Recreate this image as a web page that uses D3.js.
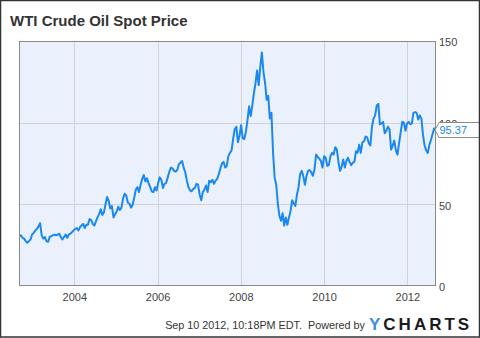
<!DOCTYPE html>
<html><head><meta charset="utf-8">
<script src="https://cdn.jsdelivr.net/npm/d3@7"></script>
<style>
html,body{margin:0;padding:0;background:#fff;}
svg{display:block;font-family:"Liberation Sans",Arial,sans-serif;}
</style></head><body>
<svg id="chart" width="480" height="338"></svg>
<script>
// WTI crude spot price, sampled every two weeks (USD per barrel)
const title = "WTI Crude Oil Spot Price";
const seriesStart = "2002-09-06";
const stepDays = 14;
const prices2002 = [30.5, 31.0, 29.5, 29.0, 27.5, 26.5, 27.5, 28.5, 31.5];
const prices2003 = [32.5, 34.0, 35.0, 36.5, 38.5, 31.0, 29.0, 30.0, 27.5, 27.0, 30.0, 30.5, 31.0, 31.5, 31.0, 31.5, 32.0, 30.0, 28.5, 30.0, 31.5, 29.5, 31.5, 32.0, 33.0, 34.0];
const prices2004 = [35.0, 35.5, 34.0, 36.0, 37.0, 38.0, 35.5, 37.5, 37.5, 41.0, 40.5, 38.0, 37.0, 39.5, 42.0, 44.0, 47.0, 43.5, 45.0, 50.0, 54.5, 52.0, 47.5, 49.0, 42.0, 44.0];
const prices2005 = [45.5, 48.5, 46.5, 48.0, 53.5, 56.5, 55.5, 51.0, 50.5, 48.0, 49.5, 54.0, 59.0, 60.5, 57.5, 62.0, 65.5, 68.0, 64.0, 66.0, 63.0, 60.5, 58.0, 57.5, 60.5, 58.5];
const prices2006 = [63.0, 66.5, 65.0, 60.0, 62.5, 63.0, 66.5, 70.0, 72.5, 72.0, 70.5, 70.0, 71.0, 74.5, 75.5, 76.5, 72.5, 69.5, 64.5, 60.5, 58.5, 58.0, 59.5, 60.0, 62.5, 62.0];
const prices2007 = [56.0, 52.5, 57.5, 59.0, 61.5, 57.5, 64.5, 63.5, 65.0, 62.5, 64.5, 65.5, 68.5, 72.0, 75.0, 76.0, 72.5, 73.5, 79.5, 81.5, 83.0, 90.0, 96.0, 97.5, 88.0, 92.0];
const prices2008 = [98.5, 90.5, 90.0, 94.5, 101.5, 110.0, 104.0, 110.5, 118.0, 124.0, 132.0, 123.0, 134.0, 143.0, 131.0, 124.5, 114.0, 116.5, 102.5, 106.0, 82.0, 66.5, 62.0, 50.5, 43.0, 40.0];
const prices2009 = [44.5, 37.0, 42.0, 37.5, 42.0, 46.0, 52.5, 50.5, 49.0, 56.0, 60.5, 68.5, 70.5, 67.0, 62.0, 67.5, 70.5, 71.0, 69.5, 67.5, 71.5, 80.5, 79.0, 78.0, 76.5, 72.5];
const prices2010 = [79.5, 78.5, 73.5, 74.0, 79.5, 81.5, 80.5, 85.0, 83.5, 76.0, 70.5, 73.0, 77.5, 72.5, 76.5, 78.5, 76.0, 74.0, 75.5, 76.0, 82.5, 81.5, 86.5, 81.5, 88.0, 88.5, 91.5];
const prices2011 = [91.0, 87.5, 86.0, 97.5, 102.5, 104.5, 110.5, 111.5, 99.0, 99.5, 100.5, 93.5, 95.0, 97.5, 96.0, 83.5, 86.0, 89.0, 83.0, 80.5, 87.5, 94.0, 100.5, 100.0, 95.0, 99.5];
const prices2012 = [100.5, 99.0, 99.5, 106.0, 106.5, 106.0, 102.0, 104.5, 102.5, 92.5, 86.0, 83.0, 81.5, 86.5, 89.5, 93.0, 96.5, 95.37];

const xDomain = ["2002-09-03", "2012-09-09"];
const xTickYears = [2004, 2006, 2008, 2010, 2012];
const yTicks = [0, 50, 100, 150];
const footerText = "Sep 10 2012, 10:18PM EDT.  Powered by";

const parse = d3.timeParse("%Y-%m-%d");
const start = parse(seriesStart);
const prices = [].concat(prices2002, prices2003, prices2004, prices2005, prices2006,
  prices2007, prices2008, prices2009, prices2010, prices2011, prices2012);
const series = prices.map((v, i) => ({ date: d3.timeDay.offset(start, i * stepDays), value: v }));
const last = series[series.length - 1];

const W = 480, H = 338;
const plot = { left: 19, right: 436, top: 41, bottom: 286 };
const svg = d3.select("#chart");

svg.append("rect").attr("width", W).attr("height", H).attr("fill", "#fff");

const x = d3.scaleTime().domain(xDomain.map(parse)).range([plot.left, plot.right]);
const y = d3.scaleLinear().domain([0, 150]).range([plot.bottom, plot.top]);

// plot background
svg.append("rect")
  .attr("x", plot.left).attr("y", plot.top)
  .attr("width", plot.right - plot.left).attr("height", plot.bottom - plot.top)
  .attr("fill", "#eaf1fd");

// grid
const grid = svg.append("g").attr("stroke", "#d2d2d4").attr("stroke-width", 1);
grid.selectAll("line.h").data(yTicks.filter(t => t > 0 && t < 150)).join("line")
  .attr("x1", plot.left).attr("x2", plot.right)
  .attr("y1", d => Math.round(y(d)) + 0.5).attr("y2", d => Math.round(y(d)) + 0.5);
grid.selectAll("line.v").data(xTickYears).join("line")
  .attr("y1", plot.top).attr("y2", plot.bottom)
  .attr("x1", d => Math.round(x(new Date(d, 0, 1))) + 0.5)
  .attr("x2", d => Math.round(x(new Date(d, 0, 1))) + 0.5);

// price line
svg.append("clipPath").attr("id", "clip").append("rect")
  .attr("x", plot.left).attr("y", plot.top)
  .attr("width", plot.right - plot.left).attr("height", plot.bottom - plot.top);
const line = d3.line().x(d => x(d.date)).y(d => y(d.value));
svg.append("path").datum(series)
  .attr("clip-path", "url(#clip)")
  .attr("d", line)
  .attr("fill", "none").attr("stroke", "#1a88ec").attr("stroke-width", 2)
  .attr("stroke-linejoin", "round");

// plot frame
svg.append("rect")
  .attr("x", plot.left + 0.5).attr("y", plot.top + 0.5)
  .attr("width", plot.right - plot.left - 1).attr("height", plot.bottom - plot.top - 1)
  .attr("fill", "none").attr("stroke", "#8a8a8a");

// right value axis
const yAxis = d3.axisRight(y).tickValues(yTicks).tickSize(0).tickPadding(3);
const yg = svg.append("g").attr("transform", `translate(${plot.right},0)`).call(yAxis);
yg.select(".domain").remove();
yg.selectAll("text").attr("font-size", 11).attr("fill", "#444")
  .attr("font-family", "Liberation Sans, Arial, sans-serif").attr("dy", "0.45em");

// bottom time axis
const xAxis = d3.axisBottom(x)
  .tickValues(xTickYears.map(yr => new Date(yr, 0, 1)))
  .tickFormat(d3.timeFormat("%Y")).tickSize(0).tickPadding(7);
const xg = svg.append("g").attr("transform", `translate(0,${plot.bottom})`).call(xAxis);
xg.select(".domain").remove();
xg.selectAll("text").attr("font-size", 11).attr("fill", "#444")
  .attr("font-family", "Liberation Sans, Arial, sans-serif");

// last value callout, drawn over the axis label it sits on
const ly = Math.round(y(last.value));
const callout = svg.append("g");
callout.append("path")
  .attr("d", `M${plot.right - 1},${ly} L${plot.right + 3},${ly - 7.5} H479.5 V${ly + 7.5} H${plot.right + 3} Z`)
  .attr("fill", "#fff").attr("stroke", "#8a8a8a");
callout.append("text")
  .attr("x", plot.right + 3.5).attr("y", ly + 4)
  .attr("font-size", 11).attr("fill", "#1a88ec")
  .text(d3.format(".2f")(last.value));

// title
svg.append("text").attr("x", 10).attr("y", 26)
  .attr("font-size", 15).attr("font-weight", "bold").attr("fill", "#333")
  .text(title);

// footer
svg.append("text").attr("x", 365).attr("y", 328.5).attr("text-anchor", "end")
  .attr("font-size", 10.8).attr("fill", "#333").style("white-space", "pre")
  .text(footerText);
const logo = svg.append("text").attr("x", 369).attr("y", 329.5)
  .attr("font-size", 17).attr("font-weight", "bold").attr("letter-spacing", 3);
logo.append("tspan").attr("fill", "#3a8ee6").text("Y");
logo.append("tspan").attr("fill", "#1b1b1b").text("CHARTS");

// outer frame
svg.append("rect").attr("x", 0.5).attr("y", 0.5).attr("width", W - 1).attr("height", H - 1.5)
  .attr("fill", "none").attr("stroke", "#333").attr("stroke-width", 1.5);
</script>
</body></html>
